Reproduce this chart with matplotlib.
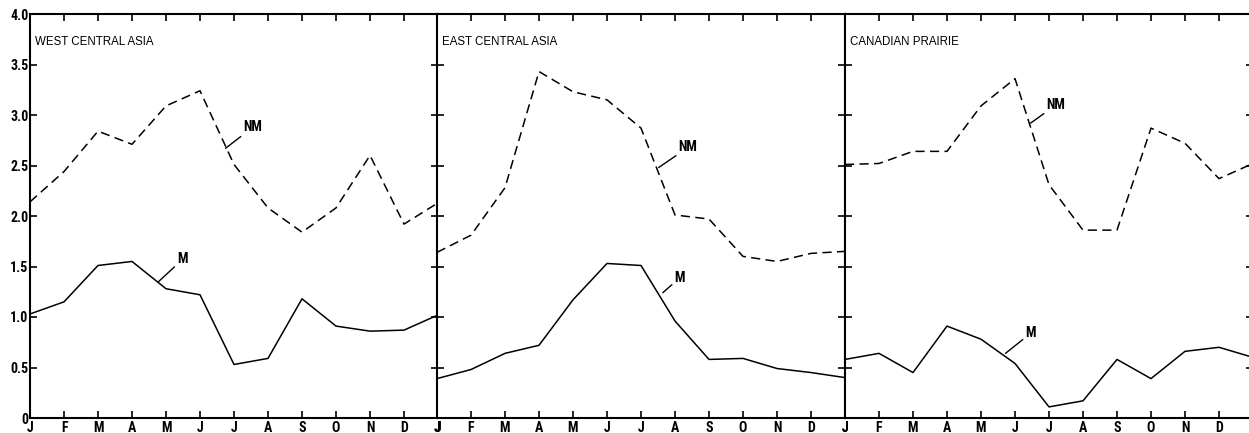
import matplotlib.pyplot as plt
from matplotlib import font_manager

months = ['J', 'F', 'M', 'A', 'M', 'J', 'J', 'A', 'S', 'O', 'N', 'D', 'J']
regions = ['WEST CENTRAL ASIA', 'EAST CENTRAL ASIA', 'CANADIAN PRAIRIE']

# non-meteoric (dashed) and meteoric (solid) values, J..J
nm_west = [2.14, 2.44, 2.84, 2.71, 3.09, 3.24, 2.51, 2.08, 1.84, 2.08, 2.60, 1.92, 2.13]
m_west = [1.03, 1.15, 1.51, 1.55, 1.28, 1.22, 0.53, 0.59, 1.18, 0.91, 0.86, 0.87, 1.02]
nm_east = [1.64, 1.81, 2.28, 3.43, 3.23, 3.15, 2.87, 2.01, 1.97, 1.60, 1.55, 1.63, 1.65]
m_east = [0.39, 0.48, 0.64, 0.72, 1.17, 1.53, 1.51, 0.96, 0.58, 0.59, 0.49, 0.45, 0.40]
nm_prairie = [2.51, 2.52, 2.64, 2.64, 3.09, 3.36, 2.31, 1.86, 1.86, 2.87, 2.72, 2.37, 2.52]
m_prairie = [0.58, 0.64, 0.45, 0.91, 0.78, 0.54, 0.11, 0.17, 0.58, 0.39, 0.66, 0.70, 0.60]

nm_all = [nm_west, nm_east, nm_prairie]
m_all = [m_west, m_east, m_prairie]

# label positions (text xy, leader end xy) in data coords
nm_lab = [((6.28, 2.88), (5.75, 2.67)), ((7.11, 2.68), (6.52, 2.48)), ((5.93, 3.10), (5.46, 2.92))]
m_lab = [((4.33, 1.57), (3.78, 1.35)), ((6.99, 1.39), (6.64, 1.24)), ((5.31, 0.84), (4.72, 0.64))]

yticks = [0, 0.5, 1.0, 1.5, 2.0, 2.5, 3.0, 3.5, 4.0]
ylabels = ['0', '0.5', '1.0', '1.5', '2.0', '2.5', '3.0', '3.5', '4.0']

# pick a condensed face if one is around
have = set(f.name for f in font_manager.fontManager.ttflist)
narrow = None
for name in ['Liberation Sans Narrow', 'DejaVu Sans Condensed', 'Roboto Condensed']:
    if name in have:
        narrow = name
        break
if narrow:
    plt.rcParams['font.family'] = [narrow, 'DejaVu Sans']
    fs_tick, fs_lab = 10, 10
else:
    plt.rcParams['font.family'] = ['Liberation Sans', 'DejaVu Sans']
    fs_tick, fs_lab = 8.5, 8.5
TITLE_FONT = ['Liberation Sans', 'DejaVu Sans']

W, H = 1249, 433
fig = plt.figure(figsize=(W / 100, H / 100), dpi=100)

lefts = [30, 437, 845]
x = list(range(len(months)))
for i, left in enumerate(lefts):
    ax = fig.add_axes([left / W, 15 / H, 408 / W, 404 / H])
    ax.plot(x, nm_all[i], color='black', lw=1.1, ls=(0, (6, 3.5)))
    ax.plot(x, m_all[i], color='black', lw=1.1)
    ax.set_xlim(0, 12)
    ax.set_ylim(0, 4.0)
    ax.set_xticks(x)
    labs = months if i < 2 else months[:-1] + ['']
    ax.set_xticklabels(labs, fontsize=fs_tick, fontweight='bold')
    ax.set_yticks(yticks)
    if i == 0:
        ax.set_yticklabels(ylabels, fontsize=fs_tick, fontweight='bold')
    else:
        ax.set_yticklabels([])
    ax.tick_params(axis='x', direction='in', length=5, width=1.2, top=True, pad=2)
    ax.tick_params(axis='y', direction='in', length=5, width=1.2, right=True, pad=1)
    for s in ax.spines.values():
        s.set_linewidth(1.5)
    ax.text(0.012, 0.93, regions[i], transform=ax.transAxes, fontsize=8.3,
            family=TITLE_FONT, ha='left', va='center')
    (tx, ty), (ex, ey) = nm_lab[i]
    ax.annotate('NM', xy=(ex, ey), xytext=(tx, ty), fontsize=fs_lab, fontweight='bold',
                ha='left', va='center',
                arrowprops=dict(arrowstyle='-', color='black', lw=1.0, shrinkA=0, shrinkB=0))
    (tx, ty), (ex, ey) = m_lab[i]
    ax.annotate('M', xy=(ex, ey), xytext=(tx, ty), fontsize=fs_lab, fontweight='bold',
                ha='left', va='center',
                arrowprops=dict(arrowstyle='-', color='black', lw=1.0, shrinkA=0, shrinkB=0))

fig.savefig('out.png', dpi=100)
